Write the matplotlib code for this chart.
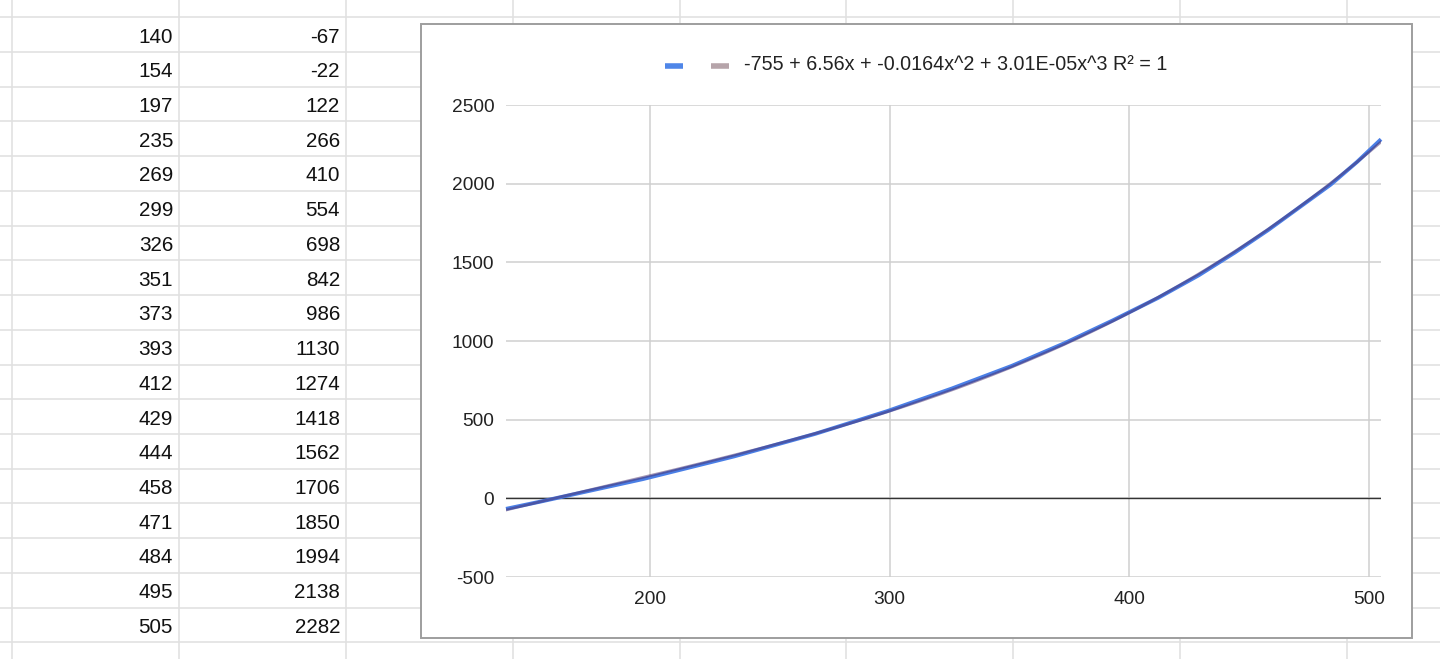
import numpy as np
import matplotlib
matplotlib.use("Agg")
import matplotlib.pyplot as plt
from matplotlib.patches import Rectangle
from matplotlib.lines import Line2D

plt.rcParams['font.family'] = ['Liberation Sans', 'DejaVu Sans']
plt.rcParams['axes.unicode_minus'] = False

# ---- data ----
x_vals = [140, 154, 197, 235, 269, 299, 326, 351, 373, 393, 412, 429, 444, 458, 471, 484, 495, 505]
y_vals = [-67, -22, 122, 266, 410, 554, 698, 842, 986, 1130, 1274, 1418, 1562, 1706, 1850, 1994, 2138, 2282]
y_ticks = [-500, 0, 500, 1000, 1500, 2000, 2500]
x_ticks = [200, 300, 400, 500]
legend_label = "-755 + 6.56x + -0.0164x^2 + 3.01E-05x^3 R² = 1"

W, H = 1440, 659
fig = plt.figure(figsize=(W / 100, H / 100), dpi=100)

# ---- spreadsheet background ----
bg = fig.add_axes([0, 0, 1, 1])
bg.set_xlim(0, W)
bg.set_ylim(H, 0)
bg.axis('off')
grid_c = '#e1e1e1'
row0, row_h = 17.3, 34.72
for i in range(19):
    yy = row0 + i * row_h
    bg.plot([0, W], [yy, yy], color=grid_c, lw=1.2, zorder=1)
for xx in [12, 179, 346, 513, 680, 846, 1013, 1180, 1347]:
    bg.plot([xx, xx], [0, H], color=grid_c, lw=1.2, zorder=1)
for i, (a, b) in enumerate(zip(x_vals, y_vals)):
    base = row0 + i * row_h + 25.3
    bg.text(173, base, f"{a}", ha='right', va='baseline', fontsize=14.9, color='#111111', zorder=2)
    bg.text(340, base, f"{b}", ha='right', va='baseline', fontsize=14.9, color='#111111', zorder=2)

# chart box
bg.add_patch(Rectangle((421, 24), 991, 614, facecolor='white', edgecolor='#9e9e9e', lw=1.4, zorder=3))

# legend (manual)
bg.add_line(Line2D([665, 683], [66, 66], color='#4f86e8', lw=4, solid_capstyle='butt', zorder=4))
bg.add_line(Line2D([711, 729], [66, 66], color='#b6a4aa', lw=4, solid_capstyle='butt', zorder=4))
bg.text(744, 65, legend_label, ha='left', va='center', fontsize=14.2, color='#222222', zorder=4)

# ---- plot axes ----
l, r, t, b = 506, 1381, 105, 577
ax = fig.add_axes([l / W, 1 - b / H, (r - l) / W, (b - t) / H])
ax.set_facecolor('none')
ax.set_xlim(min(x_vals), max(x_vals))
ax.set_ylim(-500, 2500)
for s in ax.spines.values():
    s.set_visible(False)
ax.set_xticks(x_ticks)
ax.set_yticks(y_ticks)
ax.tick_params(length=0, labelsize=13.8, colors='#222222')
ax.tick_params(axis='y', pad=8.4)
ax.tick_params(axis='x', pad=10)
ax.grid(True, color='#cfcfcf', lw=1.1)
ax.set_axisbelow(True)
ax.axhline(0, color='#333333', lw=1.0, zorder=2)

xs = np.array(x_vals, dtype=float)
ys = np.array(y_vals, dtype=float)
ax.plot(xs, ys, color='#4a7fe6', lw=2.8, zorder=3, clip_on=False, solid_capstyle='butt')
coef = np.polyfit(xs, ys, 3)
xt = np.linspace(xs.min(), xs.max(), 300)
ax.plot(xt, np.polyval(coef, xt), color='#4a2f6a', lw=2.0, alpha=0.5, zorder=4)

fig.savefig('out.png', dpi=100)
